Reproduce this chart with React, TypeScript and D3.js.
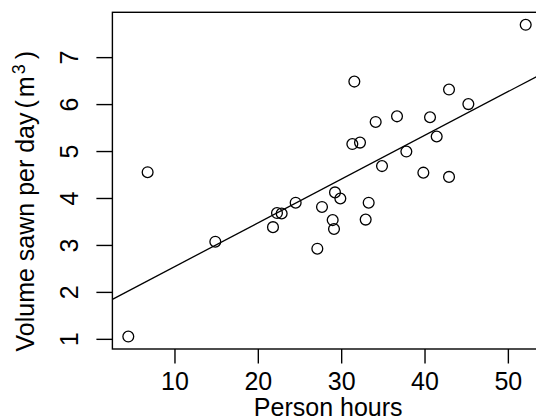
import React from 'react';
import * as d3 from 'd3';

// person hours vs volume sawn per day
const hours = [
  4.4, 6.72, 14.84, 21.76, 22.24, 22.8, 24.48, 27.08, 27.64, 28.92,
  29.08, 29.2, 29.84, 31.28, 31.52, 32.2, 32.88, 33.24, 34.08, 34.84,
  36.64, 37.76, 39.8, 40.6, 41.4, 42.88, 42.88, 45.2, 52.08
];
const volume = [
  1.06, 4.56, 3.08, 3.39, 3.69, 3.68, 3.91, 2.93, 3.82, 3.54,
  3.35, 4.13, 4.0, 5.16, 6.49, 5.19, 3.55, 3.91, 5.63, 4.69,
  5.75, 5.0, 4.55, 5.73, 5.32, 6.32, 4.46, 6.01, 7.7
];
const xTicks = [10, 20, 30, 40, 50];
const yTicks = [1, 2, 3, 4, 5, 6, 7];
// fitted line (abline of lm)
const fit = { intercept: 1.62, slope: 0.0932 };

const W = 536;
const H = 419;
const left = 112.4;
const right = 541.6;
const top = 12.3;
const bottom = 349;
const font = 'Liberation Sans, Arial, Helvetica, sans-serif';

// R style 4% padding on the data range
const pad = (ext: [number, number]): [number, number] => {
  const d = (ext[1] - ext[0]) * 0.04;
  return [ext[0] - d, ext[1] + d];
};

export default function App() {
  const x = d3.scaleLinear().domain(pad(d3.extent(hours) as [number, number])).range([left, right]);
  const y = d3.scaleLinear().domain(pad(d3.extent(volume) as [number, number])).range([bottom, top]);
  const [x0, x1] = x.domain();
  const line = d3.line<number>()
    .x(d => x(d))
    .y(d => y(fit.intercept + fit.slope * d));

  return (
    <svg width={W} height={H} style={{ position: 'absolute', left: 0, top: 0, background: '#fff' }}
      fontFamily={font}>
      <defs>
        <clipPath id="plot">
          <rect x={left} y={top} width={right - left} height={bottom - top} />
        </clipPath>
      </defs>
      <rect x={left} y={top} width={right - left} height={bottom - top}
        fill="none" stroke="#000" strokeWidth={1.4} />
      <path d={line([x0, x1]) || ''} fill="none" stroke="#000" strokeWidth={1.3}
        clipPath="url(#plot)" />
      {hours.map((h, i) => (
        <circle key={i} cx={x(h)} cy={y(volume[i])} r={5.4}
          fill="none" stroke="#000" strokeWidth={1.3} />
      ))}
      {xTicks.map(t => (
        <g key={t}>
          <line x1={x(t)} x2={x(t)} y1={bottom} y2={bottom + 14.5} stroke="#000" strokeWidth={1.4} />
          <text x={x(t)} y={390} textAnchor="middle" fontSize={25}>{t}</text>
        </g>
      ))}
      {yTicks.map(t => (
        <g key={t}>
          <line x1={left - 16} x2={left} y1={y(t)} y2={y(t)} stroke="#000" strokeWidth={1.4} />
          <text transform={`translate(77.7,${y(t)}) rotate(-90)`} textAnchor="middle" fontSize={25}>{t}</text>
        </g>
      ))}
      <text x={(left + 536) / 2 + 4} y={416} textAnchor="middle" fontSize={25}>Person hours</text>
      <text transform="translate(34,351.5) rotate(-90)" textAnchor="start" fontSize={25}>
        Volume sawn per day
        <tspan dx={4}>(</tspan>
        <tspan dx={3}>m</tspan>
        <tspan dx={2} dy={-9} fontSize={18}>3</tspan>
        <tspan dx={5} dy={9}>)</tspan>
      </text>
    </svg>
  );
}
